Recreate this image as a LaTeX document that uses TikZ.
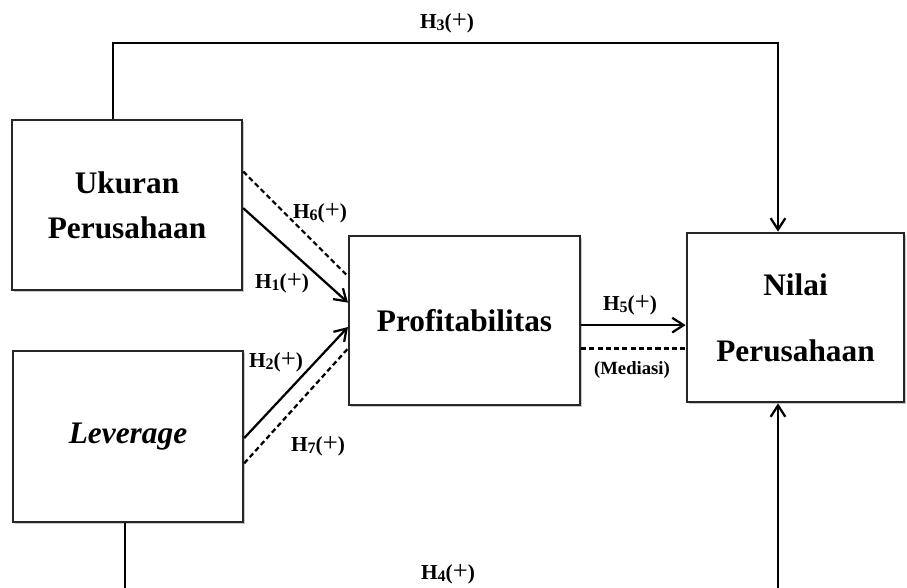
\documentclass[tikz,border=0pt]{standalone}
\usepackage{fontspec}
\setmainfont{Liberation Serif}
\usetikzlibrary{arrows.meta,calc,shadows}
\newcommand{\hypl}[1]{\textbf{H}\raisebox{-0.25ex}{\fontsize{12}{12}\selectfont\textbf{#1}}\textbf{(}{\fontsize{20}{20}\selectfont+}\textbf{)}}
\tikzset{
  varbox/.style={draw=black!85, line width=1.8pt, fill=white, minimum width=#1, inner sep=0pt,
     drop shadow={shadow xshift=1.6pt, shadow yshift=-1.6pt, opacity=0.35, fill=black!60},
     font=\fontsize{23.5}{34}\selectfont\bfseries, align=center},
  conn/.style={line width=1.7pt, black},
  dconn/.style={line width=1.7pt, black, dash pattern=on 3.8pt off 2.4pt},
  arr/.style={-{Straight Barb[length=8.5pt,width=11pt,line width=1.7pt]}},
  hlab/.style={font=\fontsize{16}{16}\selectfont, inner sep=0pt},
}
\begin{document}
\begin{tikzpicture}[x=0.75pt,y=-0.75pt]
\clip (0,0) rectangle (907,588);
\fill[white] (0,0) rectangle (907,588);
% boxes
\node[varbox=172.5pt, minimum height=127.5pt] (uk) at (127,205) {Ukuran\\Perusahaan};
\node[varbox=172.5pt, minimum height=128pt, font=\fontsize{23.5}{34}\selectfont\bfseries\itshape] (lv) at (128,436.5) {Leverage};
\node[varbox=173pt, minimum height=127pt] (pr) at (464.5,320.5) {Profitabilitas};
\node[varbox=163pt, minimum height=127pt, font=\fontsize{23.5}{49.5}\selectfont\bfseries] (nv) at (795.5,317.5) {Nilai\\Perusahaan};
% helper coordinates
\coordinate (t3a) at (113,43);
\coordinate (t3b) at (778,43);
\coordinate (b4a) at (125,600);
\coordinate (b4b) at (778,600);
% H3 top
\draw[conn,arr] (uk.north -| t3a) -- (t3a) -- (t3b) -- (nv.north -| t3b);
% H4 bottom
\draw[conn,arr] (lv.south -| b4a) -- (b4a) -- (b4b) -- (nv.south -| b4b);
% H6 dashed, H1 solid
\draw[dconn] ($(uk.north east)!0.306!(uk.south east)$) -- ($(pr.north west)!0.243!(pr.south west)$);
\draw[conn,arr] ($(uk.north east)!0.518!(uk.south east)$) -- ($(pr.north west)!0.396!(pr.south west)$);
% H2 solid, H7 dashed
\draw[conn,arr] ($(lv.north east)!0.509!(lv.south east)$) -- ($(pr.north west)!0.538!(pr.south west)$);
\draw[dconn] ($(lv.north east)!0.655!(lv.south east)$) -- ($(pr.north west)!0.663!(pr.south west)$);
% H5 and mediation
\coordinate (p5) at ($(pr.north east)!0.527!(pr.south east)$);
\coordinate (pm) at ($(pr.north east)!0.663!(pr.south east)$);
\draw[conn,arr] (p5) -- (p5 -| nv.west);
\draw[dconn] (pm) -- (pm -| nv.west);
% labels
\node[hlab] (l3) at (447,23) {\hypl{3}};
\node[hlab] (l6) at (320,213) {\hypl{6}};
\node[hlab] (l1) at (282,283) {\hypl{1}};
\node[hlab] (l2) at (276,362) {\hypl{2}};
\node[hlab] (l7) at (318,446) {\hypl{7}};
\node[hlab] (l5) at (630,305) {\hypl{5}};
\node[hlab, font=\fontsize{14}{14}\selectfont\bfseries] (lm) at (632,370) {(Mediasi)};
\node[hlab] (l4) at (448,574) {\hypl{4}};
\end{tikzpicture}
\end{document}
